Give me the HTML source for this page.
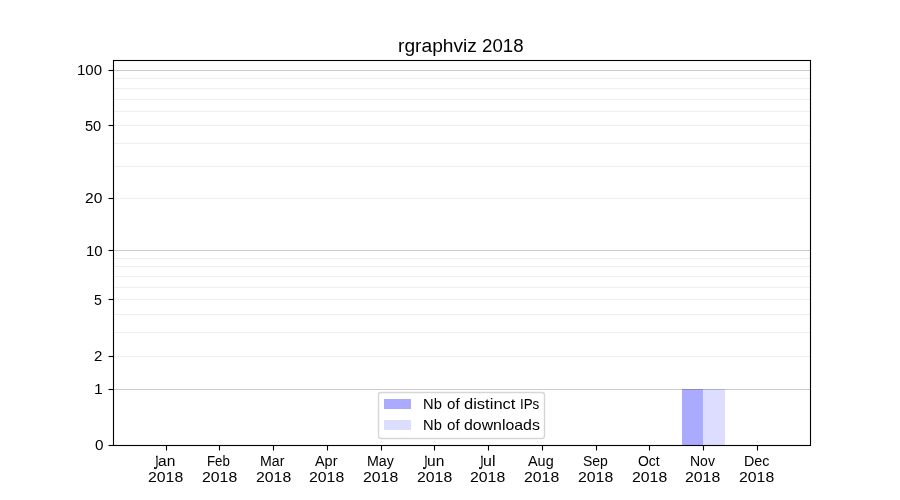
<!DOCTYPE html>
<html lang="en">
<head>
<meta charset="utf-8">
<title>rgraphviz 2018</title>
<style>
html,body{margin:0;padding:0;background:#ffffff;}
body{width:900px;height:500px;position:relative;overflow:hidden;font-family:"Liberation Sans",sans-serif;color:#000;}
svg{position:absolute;left:0;top:0;display:block;}
#labels{position:absolute;left:0;top:0;width:900px;height:500px;will-change:transform;filter:grayscale(1);}
.t{position:absolute;display:block;white-space:pre;line-height:1;transform-origin:0 0;margin:0;padding:0;-webkit-text-stroke:0px #000;}
</style>
</head>
<body>
<svg width="900" height="500" viewBox="0 0 900 500">
<rect x="682" y="389" width="21" height="56" fill="#aaaaff"/>
<rect x="703" y="389" width="22" height="56" fill="#ddddff"/>
<line x1="113.5" y1="356.5" x2="810.5" y2="356.5" stroke="#000" stroke-opacity="0.0667" stroke-width="1.11"/>
<line x1="113.5" y1="332.5" x2="810.5" y2="332.5" stroke="#000" stroke-opacity="0.0667" stroke-width="1.11"/>
<line x1="113.5" y1="314.5" x2="810.5" y2="314.5" stroke="#000" stroke-opacity="0.0667" stroke-width="1.11"/>
<line x1="113.5" y1="299.5" x2="810.5" y2="299.5" stroke="#000" stroke-opacity="0.0667" stroke-width="1.11"/>
<line x1="113.5" y1="287.5" x2="810.5" y2="287.5" stroke="#000" stroke-opacity="0.0667" stroke-width="1.11"/>
<line x1="113.5" y1="276.5" x2="810.5" y2="276.5" stroke="#000" stroke-opacity="0.0667" stroke-width="1.11"/>
<line x1="113.5" y1="266.5" x2="810.5" y2="266.5" stroke="#000" stroke-opacity="0.0667" stroke-width="1.11"/>
<line x1="113.5" y1="258.5" x2="810.5" y2="258.5" stroke="#000" stroke-opacity="0.0667" stroke-width="1.11"/>
<line x1="113.5" y1="198.5" x2="810.5" y2="198.5" stroke="#000" stroke-opacity="0.0667" stroke-width="1.11"/>
<line x1="113.5" y1="166.5" x2="810.5" y2="166.5" stroke="#000" stroke-opacity="0.0667" stroke-width="1.11"/>
<line x1="113.5" y1="143.5" x2="810.5" y2="143.5" stroke="#000" stroke-opacity="0.0667" stroke-width="1.11"/>
<line x1="113.5" y1="125.5" x2="810.5" y2="125.5" stroke="#000" stroke-opacity="0.0667" stroke-width="1.11"/>
<line x1="113.5" y1="111.5" x2="810.5" y2="111.5" stroke="#000" stroke-opacity="0.0667" stroke-width="1.11"/>
<line x1="113.5" y1="99.5" x2="810.5" y2="99.5" stroke="#000" stroke-opacity="0.0667" stroke-width="1.11"/>
<line x1="113.5" y1="88.5" x2="810.5" y2="88.5" stroke="#000" stroke-opacity="0.0667" stroke-width="1.11"/>
<line x1="113.5" y1="78.5" x2="810.5" y2="78.5" stroke="#000" stroke-opacity="0.0667" stroke-width="1.11"/>
<line x1="113.5" y1="389.5" x2="810.5" y2="389.5" stroke="#000" stroke-opacity="0.2" stroke-width="1.11"/>
<line x1="113.5" y1="250.5" x2="810.5" y2="250.5" stroke="#000" stroke-opacity="0.2" stroke-width="1.11"/>
<line x1="113.5" y1="70.5" x2="810.5" y2="70.5" stroke="#000" stroke-opacity="0.2" stroke-width="1.11"/>
<line x1="108.5" y1="445.5" x2="113.5" y2="445.5" stroke="#000" stroke-width="1.11"/>
<line x1="108.5" y1="389.5" x2="113.5" y2="389.5" stroke="#000" stroke-width="1.11"/>
<line x1="108.5" y1="356.5" x2="113.5" y2="356.5" stroke="#000" stroke-width="1.11"/>
<line x1="108.5" y1="299.5" x2="113.5" y2="299.5" stroke="#000" stroke-width="1.11"/>
<line x1="108.5" y1="250.5" x2="113.5" y2="250.5" stroke="#000" stroke-width="1.11"/>
<line x1="108.5" y1="198.5" x2="113.5" y2="198.5" stroke="#000" stroke-width="1.11"/>
<line x1="108.5" y1="125.5" x2="113.5" y2="125.5" stroke="#000" stroke-width="1.11"/>
<line x1="108.5" y1="70.5" x2="113.5" y2="70.5" stroke="#000" stroke-width="1.11"/>
<line x1="166.5" y1="445.5" x2="166.5" y2="450.5" stroke="#000" stroke-width="1.11"/>
<line x1="219.5" y1="445.5" x2="219.5" y2="450.5" stroke="#000" stroke-width="1.11"/>
<line x1="273.5" y1="445.5" x2="273.5" y2="450.5" stroke="#000" stroke-width="1.11"/>
<line x1="327.5" y1="445.5" x2="327.5" y2="450.5" stroke="#000" stroke-width="1.11"/>
<line x1="381.5" y1="445.5" x2="381.5" y2="450.5" stroke="#000" stroke-width="1.11"/>
<line x1="434.5" y1="445.5" x2="434.5" y2="450.5" stroke="#000" stroke-width="1.11"/>
<line x1="488.5" y1="445.5" x2="488.5" y2="450.5" stroke="#000" stroke-width="1.11"/>
<line x1="542.5" y1="445.5" x2="542.5" y2="450.5" stroke="#000" stroke-width="1.11"/>
<line x1="596.5" y1="445.5" x2="596.5" y2="450.5" stroke="#000" stroke-width="1.11"/>
<line x1="649.5" y1="445.5" x2="649.5" y2="450.5" stroke="#000" stroke-width="1.11"/>
<line x1="703.5" y1="445.5" x2="703.5" y2="450.5" stroke="#000" stroke-width="1.11"/>
<line x1="757.5" y1="445.5" x2="757.5" y2="450.5" stroke="#000" stroke-width="1.11"/>
<rect x="113.5" y="60.5" width="697" height="385" fill="none" stroke="#000" stroke-width="1.11"/>
<rect x="378.5" y="392.5" width="166" height="46" rx="2.8" ry="2.8" fill="#fff" fill-opacity="0.8" stroke="#ccc" stroke-opacity="0.8" stroke-width="1.389"/>
<rect x="384" y="399" width="27" height="10" fill="#aaaaff"/>
<rect x="384" y="420" width="27" height="10" fill="#ddddff"/>
</svg>
<div id="labels">
<div id="title"><span class="t" id="title_0" style="left:398.000px;top:37.021px;font-size:18.688px;transform:scaleX(1.0278)">rgraphviz </span><span class="t" id="title_1" style="left:482.000px;top:36.982px;font-size:18.294px;transform:scaleX(1.0215)">2018</span></div>
<div class="t" id="y0" style="left:95.000px;top:439.000px;font-size:13.900px;transform:scaleX(1.1020)">0</div>
<div class="t" id="y1" style="left:94.000px;top:382.975px;font-size:13.969px;transform:scaleX(1.1284)">1</div>
<div class="t" id="y2" style="left:94.000px;top:349.015px;font-size:14.450px;transform:scaleX(1.0445)">2</div>
<div class="t" id="y5" style="left:94.000px;top:293.015px;font-size:14.400px;transform:scaleX(0.9800)">5</div>
<div class="t" id="y10" style="left:86.000px;top:243.996px;font-size:14.850px;transform:scaleX(1.0109)">10</div>
<div class="t" id="y20" style="left:85.000px;top:191.006px;font-size:14.247px;transform:scaleX(1.0927)">20</div>
<div class="t" id="y50" style="left:85.000px;top:118.997px;font-size:14.550px;transform:scaleX(1.0026)">50</div>
<div class="t" id="y100" style="left:77.000px;top:62.996px;font-size:14.850px;transform:scaleX(1.0109)">100</div>
<div id="mJan"><span class="t" id="mJan_0" style="-webkit-text-stroke:0.35px #000;clip-path:polygon(59% 0,130% 0,130% 130%,19% 130%,19% 76.5%,59% 76.5%);left:153.000px;top:452.525px;font-size:19.000px;transform:scaleX(0.5500)">J</span><span class="t" id="mJan_1" style="left:158.000px;top:453.998px;font-size:14.150px;transform:scaleX(1.0975)">an</span></div>
<div class="t" id="yrJan" style="left:148.000px;top:469.975px;font-size:14.300px;transform:scaleX(1.1065)">2018</div>
<div class="t" id="mFeb" style="left:207.000px;top:452.985px;font-size:15.170px;transform:scaleX(0.8767)">Feb</div>
<div class="t" id="yrFeb" style="left:202.000px;top:469.975px;font-size:14.300px;transform:scaleX(1.1065)">2018</div>
<div class="t" id="mMar" style="left:260.000px;top:453.993px;font-size:14.450px;transform:scaleX(0.9805)">Mar</div>
<div class="t" id="yrMar" style="left:256.000px;top:470.000px;font-size:14.300px;transform:scaleX(1.1065)">2018</div>
<div class="t" id="mApr" style="left:315.000px;top:453.975px;font-size:14.000px;transform:scaleX(1.0300)">Apr</div>
<div class="t" id="yrApr" style="left:309.000px;top:470.000px;font-size:14.300px;transform:scaleX(1.1065)">2018</div>
<div class="t" id="mMay" style="left:367.000px;top:453.993px;font-size:14.450px;transform:scaleX(0.9842)">May</div>
<div class="t" id="yrMay" style="left:363.000px;top:470.000px;font-size:14.300px;transform:scaleX(1.1065)">2018</div>
<div id="mJun"><span class="t" id="mJun_0" style="-webkit-text-stroke:0.35px #000;clip-path:polygon(59% 0,130% 0,130% 130%,19% 130%,19% 76.5%,59% 76.5%);left:422.000px;top:452.525px;font-size:19.000px;transform:scaleX(0.5500)">J</span><span class="t" id="mJun_1" style="left:427.000px;top:454.007px;font-size:14.150px;transform:scaleX(1.0984)">un</span></div>
<div class="t" id="yrJun" style="left:417.000px;top:469.975px;font-size:14.300px;transform:scaleX(1.1065)">2018</div>
<div id="mJul"><span class="t" id="mJul_0" style="-webkit-text-stroke:0.35px #000;clip-path:polygon(59% 0,130% 0,130% 130%,19% 130%,19% 76.5%,59% 76.5%);left:478.000px;top:452.525px;font-size:19.000px;transform:scaleX(0.5500)">J</span><span class="t" id="mJul_1" style="left:483.000px;top:454.000px;font-size:14.000px;transform:scaleX(1.1400)">ul</span></div>
<div class="t" id="yrJul" style="left:470.000px;top:469.975px;font-size:14.300px;transform:scaleX(1.1065)">2018</div>
<div class="t" id="mAug" style="left:528.000px;top:454.020px;font-size:14.300px;transform:scaleX(1.0084)">Aug</div>
<div class="t" id="yrAug" style="left:524.000px;top:470.000px;font-size:14.300px;transform:scaleX(1.1065)">2018</div>
<div class="t" id="mSep" style="left:583.000px;top:453.975px;font-size:14.000px;transform:scaleX(1.0000)">Sep</div>
<div class="t" id="yrSep" style="left:578.000px;top:470.000px;font-size:14.300px;transform:scaleX(1.1065)">2018</div>
<div class="t" id="mOct" style="left:638.000px;top:453.990px;font-size:14.150px;transform:scaleX(0.9868)">Oct</div>
<div class="t" id="yrOct" style="left:632.000px;top:469.975px;font-size:14.300px;transform:scaleX(1.1065)">2018</div>
<div class="t" id="mNov" style="left:690.000px;top:454.000px;font-size:14.000px;transform:scaleX(0.9996)">Nov</div>
<div class="t" id="yrNov" style="left:685.000px;top:470.000px;font-size:14.300px;transform:scaleX(1.1065)">2018</div>
<div class="t" id="mDec" style="left:744.000px;top:453.998px;font-size:14.150px;transform:scaleX(1.0131)">Dec</div>
<div class="t" id="yrDec" style="left:739.000px;top:469.975px;font-size:14.300px;transform:scaleX(1.1065)">2018</div>
<div id="leg1"><span class="t" id="leg1_0" style="left:423.000px;top:396.982px;font-size:14.550px;transform:scaleX(1.0122)">Nb </span><span class="t" id="leg1_1" style="left:447.000px;top:396.992px;font-size:14.657px;transform:scaleX(1.0288)">of </span><span class="t" id="leg1_2" style="left:464.000px;top:397.000px;font-size:14.000px;transform:scaleX(1.1800)">distinct </span><span class="t" id="leg1_3" style="left:520.000px;top:396.978px;font-size:14.350px;transform:scaleX(0.9307)">IPs</span></div>
<div id="leg2"><span class="t" id="leg2_0" style="left:423.000px;top:418.007px;font-size:14.550px;transform:scaleX(1.0122)">Nb </span><span class="t" id="leg2_1" style="left:447.000px;top:417.984px;font-size:14.900px;transform:scaleX(1.0121)">of </span><span class="t" id="leg2_2" style="left:464.000px;top:417.993px;font-size:14.805px;transform:scaleX(1.0724)">downloads</span></div>
</div>
</body>
</html>
